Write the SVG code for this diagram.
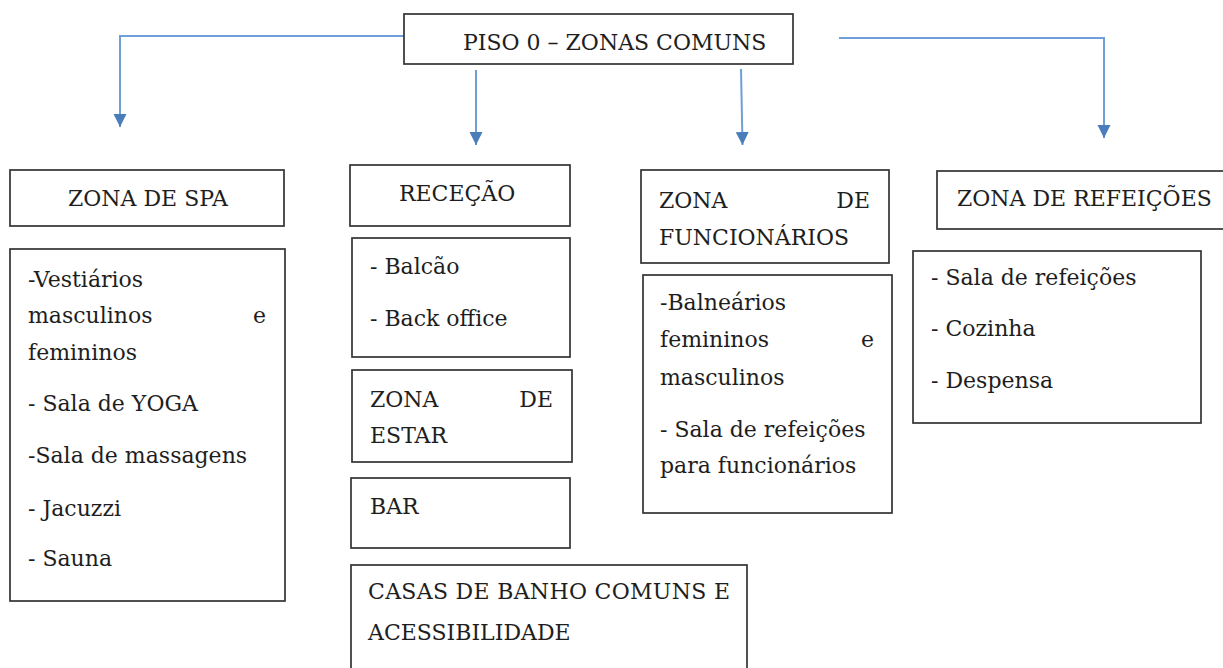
<svg xmlns="http://www.w3.org/2000/svg" width="1223" height="668" viewBox="0 0 1223 668">
<style>
.box{fill:#fff;stroke:#333;stroke-width:1.7}
.t{font-family:"DejaVu Serif","Liberation Serif",serif;font-size:22px;fill:#1e1e1e}
.c{fill:none;stroke:#6f9fd8;stroke-width:2}
</style>
<defs>
<marker id="ah" markerUnits="userSpaceOnUse" markerWidth="14" markerHeight="14" refX="13" refY="6.5" orient="auto">
<path d="M0,0 L13,6.5 L0,13 Z" fill="#4a7ebb"/>
</marker>
</defs>
<rect width="1223" height="668" fill="#fff"/>
<g id="connectors">
<path class="c" d="M418,36 H120 V127" marker-end="url(#ah)"/>
<path class="c" d="M476,70 V145" marker-end="url(#ah)"/>
<path class="c" d="M741,69 L742.5,145" marker-end="url(#ah)"/>
<path class="c" d="M839,38 H1104 V138" marker-end="url(#ah)"/>
</g>
<g id="piso0">
<rect class="box" x="404" y="14" width="389" height="50"/>
<text class="t" x="463" y="50">PISO 0 – ZONAS COMUNS</text>
</g>
<g id="spa-header">
<rect class="box" x="10" y="170" width="274" height="56"/>
<text class="t" x="68" y="206">ZONA DE SPA</text>
</g>
<g id="spa-list">
<rect class="box" x="10" y="249" width="275" height="352"/>
<text class="t" x="28" y="287">-Vestiários</text>
<text class="t" y="323"><tspan x="28">masculinos </tspan><tspan x="266" text-anchor="end">e</tspan></text>
<text class="t" x="28" y="360">femininos</text>
<text class="t" x="28" y="411">- Sala de YOGA</text>
<text class="t" x="28" y="463">-Sala de massagens</text>
<text class="t" x="28" y="516">- Jacuzzi</text>
<text class="t" x="28" y="566">- Sauna</text>
</g>
<g id="rececao">
<rect class="box" x="350" y="165" width="220" height="61"/>
<text class="t" x="399" y="201">RECEÇÃO</text>
</g>
<g id="rececao-list">
<rect class="box" x="352" y="238" width="218" height="119"/>
<text class="t" x="370" y="274">- Balcão</text>
<text class="t" x="370" y="326">- Back office</text>
</g>
<g id="zona-estar">
<rect class="box" x="352" y="370" width="220" height="92"/>
<text class="t" y="407"><tspan x="370">ZONA </tspan><tspan x="553" text-anchor="end">DE</tspan></text>
<text class="t" x="370" y="443">ESTAR</text>
</g>
<g id="bar">
<rect class="box" x="351" y="478" width="219" height="70"/>
<text class="t" x="370" y="514">BAR</text>
</g>
<g id="casas-banho">
<rect class="box" x="351" y="565" width="396" height="120"/>
<text class="t" x="368" y="599" textLength="362" lengthAdjust="spacing">CASAS DE BANHO COMUNS E</text>
<text class="t" x="368" y="640">ACESSIBILIDADE</text>
</g>
<g id="funcionarios-header">
<rect class="box" x="641" y="170" width="248" height="93"/>
<text class="t" y="208"><tspan x="659">ZONA </tspan><tspan x="870" text-anchor="end">DE</tspan></text>
<text class="t" x="659" y="245">FUNCIONÁRIOS</text>
</g>
<g id="funcionarios-list">
<rect class="box" x="643" y="275" width="249" height="238"/>
<text class="t" x="660" y="310">-Balneários</text>
<text class="t" y="347"><tspan x="660">femininos </tspan><tspan x="874" text-anchor="end">e</tspan></text>
<text class="t" x="660" y="385">masculinos</text>
<text class="t" x="660" y="437">- Sala de refeições</text>
<text class="t" x="660" y="473">para funcionários</text>
</g>
<g id="refeicoes-header">
<rect class="box" x="937" y="171" width="300" height="58"/>
<text class="t" x="957" y="206">ZONA DE REFEIÇÕES</text>
</g>
<g id="refeicoes-list">
<rect class="box" x="913" y="251" width="288" height="172"/>
<text class="t" x="931" y="285">- Sala de refeições</text>
<text class="t" x="931" y="336">- Cozinha</text>
<text class="t" x="931" y="388">- Despensa</text>
</g>
</svg>
